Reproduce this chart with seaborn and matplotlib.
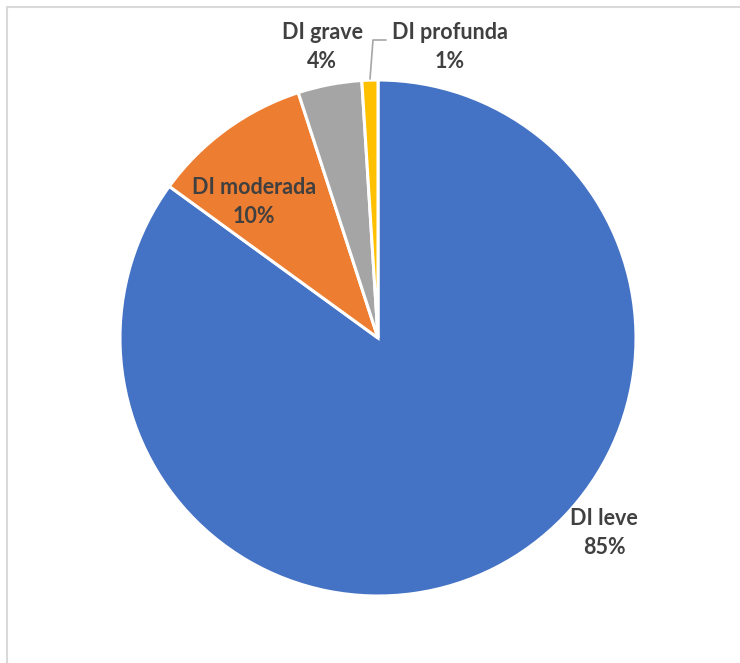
import matplotlib
matplotlib.use("Agg")
import matplotlib.pyplot as plt
import seaborn as sns

categories = ["DI leve", "DI moderada", "DI grave", "DI profunda"]
values = [85, 10, 4, 1]
pct_labels = ["85%", "10%", "4%", "1%"]
colors = ["#4472C4", "#ED7D31", "#A5A5A5", "#FFC000"]

sns.set_style("white")
plt.rcParams["font.family"] = ["Lato", "DejaVu Sans"]

W, H = 740, 663
fig = plt.figure(figsize=(W / 100, H / 100), dpi=100)
ax = fig.add_axes([0, 0, 1, 1])

cx, cy, r = 378, H - 338, 258
ax.pie(values, colors=colors, startangle=90, counterclock=False,
       center=(cx, cy), radius=r, frame=True,
       wedgeprops=dict(edgecolor="white", linewidth=2.2))
ax.set_xlim(0, W)
ax.set_ylim(0, H)
ax.set_aspect("equal")
ax.axis("off")

# label positions in pixel coordinates (x, y from top)
label_pos = [(604, 533), (254, 202), (322, 47), (450, 47)]
txt_color = "#404040"
for cat, pct, (x, y) in zip(categories, pct_labels, label_pos):
    ax.text(x, H - y, f"{cat}\n{pct}", ha="center", va="center",
            fontsize=15.5, fontweight="bold", color=txt_color,
            linespacing=1.42)

# leader line for DI profunda
ax.plot([370, 373, 386], [H - 79, H - 40, H - 40], color="#A6A6A6", lw=1.2)

# chart frame (partially visible)
fig.add_artist(plt.Line2D([6.5 / W, 6.5 / W], [0, 1 - 7 / H],
                          transform=fig.transFigure, color="#D9D9D9", lw=1.5))
fig.add_artist(plt.Line2D([6.5 / W, 1], [1 - 7 / H, 1 - 7 / H],
                          transform=fig.transFigure, color="#D9D9D9", lw=1.5))

fig.savefig("out.png", dpi=100)
